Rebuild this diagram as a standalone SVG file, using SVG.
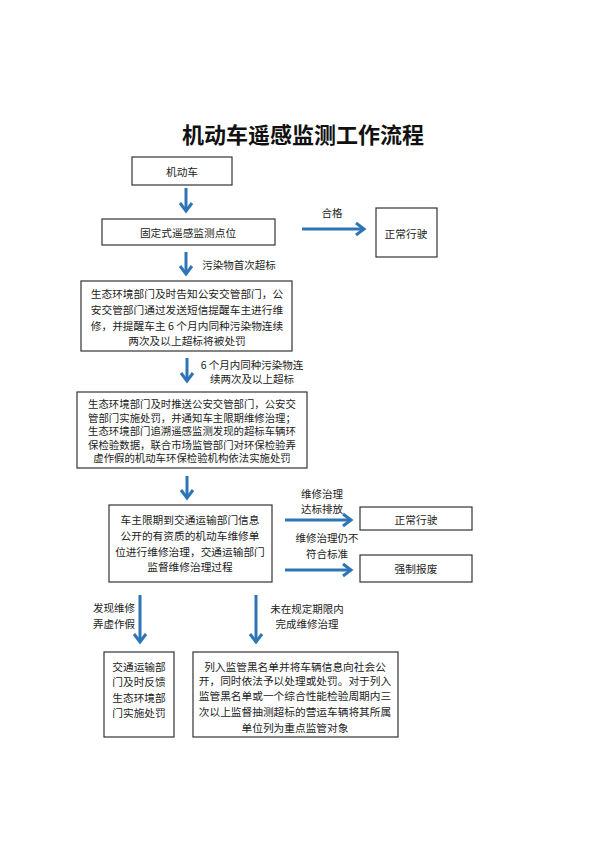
<svg xmlns="http://www.w3.org/2000/svg" width="600" height="848" viewBox="0 0 600 848">
<defs>
<style>
.box{fill:#fff;stroke:#333;stroke-width:1.2}
.t{font-family:"Noto Sans CJK SC","Noto Sans CJK JP",sans-serif;font-size:10.7px;fill:#222;text-anchor:middle;dominant-baseline:central}
.ts{font-family:"Noto Sans CJK SC","Noto Sans CJK JP",sans-serif;font-size:10.4px;fill:#222;text-anchor:middle;dominant-baseline:central}
.lbl{font-family:"Noto Sans CJK SC","Noto Sans CJK JP",sans-serif;font-size:10.5px;fill:#222;text-anchor:middle;dominant-baseline:central}
.title{font-family:"Noto Sans CJK SC","Noto Sans CJK JP",sans-serif;font-size:22px;font-weight:bold;fill:#111;text-anchor:middle;dominant-baseline:central}
.ar{stroke:#2E75B6;stroke-width:3;fill:none}
</style>
<marker id="ah" viewBox="-2 -2 14 16" markerWidth="14" markerHeight="16" refX="9" refY="6" orient="auto" markerUnits="userSpaceOnUse">
<path d="M1,0 L9,6 L1,12" fill="none" stroke="#2E75B6" stroke-width="3"/>
</marker>
</defs>
<rect width="600" height="848" fill="#fff"/>
<text class="title" x="303" y="133">机动车遥感监测工作流程</text>

<g id="connectors">
<line class="ar" x1="186" y1="188" x2="186" y2="211" marker-end="url(#ah)"/>
<line class="ar" x1="302" y1="229" x2="364" y2="229" marker-end="url(#ah)"/>
<line class="ar" x1="186" y1="252" x2="186" y2="274" marker-end="url(#ah)"/>
<line class="ar" x1="187" y1="358" x2="187" y2="381" marker-end="url(#ah)"/>
<line class="ar" x1="187" y1="476" x2="187" y2="498" marker-end="url(#ah)"/>
<line class="ar" x1="285" y1="520" x2="351" y2="520" marker-end="url(#ah)"/>
<line class="ar" x1="285" y1="570" x2="351" y2="570" marker-end="url(#ah)"/>
<line class="ar" x1="140" y1="595" x2="140" y2="642" marker-end="url(#ah)"/>
<line class="ar" x1="256" y1="595" x2="256" y2="642" marker-end="url(#ah)"/>
<text class="lbl" x="332" y="212">合格</text>
<text class="lbl" x="239" y="264">污染物首次超标</text>
<text class="lbl" x="252" y="364">6 个月内同种污染物连</text>
<text class="lbl" x="252" y="378">续两次及以上超标</text>
<text class="lbl" x="322" y="493">维修治理</text>
<text class="lbl" x="322" y="508">达标排放</text>
<text class="lbl" x="327" y="537">维修治理仍不</text>
<text class="lbl" x="327" y="553">符合标准</text>
<text class="lbl" x="114" y="607">发现维修</text>
<text class="lbl" x="114" y="623">弄虚作假</text>
<text class="lbl" x="307" y="608">未在规定期限内</text>
<text class="lbl" x="307" y="623">完成维修治理</text>
</g>

<g id="n1">
<rect class="box" x="132" y="157" width="100" height="28"/>
<text class="t" x="182" y="171">机动车</text>
</g>
<g id="n2">
<rect class="box" x="102" y="219" width="173" height="26"/>
<text class="t" x="188" y="232">固定式遥感监测点位</text>
</g>
<g id="n3">
<rect class="box" x="376" y="208" width="61" height="49"/>
<text class="t" x="406" y="233">正常行驶</text>
</g>
<g id="n4">
<rect class="box" x="81" y="281" width="211" height="70"/>
<text class="t" x="187" y="293">生态环境部门及时告知公安交管部门，公</text>
<text class="t" x="187" y="309">安交管部门通过发送短信提醒车主进行维</text>
<text class="t" x="187" y="325">修，并提醒车主 6 个月内同种污染物连续</text>
<text class="t" x="187" y="340">两次及以上超标将被处罚</text>
</g>
<g id="n5">
<rect class="box" x="77" y="392" width="230" height="76"/>
<text class="ts" x="192" y="403.5">生态环境部门及时推送公安交管部门，公安交</text>
<text class="ts" x="192" y="417">管部门实施处罚，并通知车主限期维修治理；</text>
<text class="ts" x="192" y="430.5">生态环境部门追溯遥感监测发现的超标车辆环</text>
<text class="ts" x="192" y="444">保检验数据，联合市场监管部门对环保检验弄</text>
<text class="ts" x="192" y="457.5">虚作假的机动车环保检验机构依法实施处罚</text>
</g>
<g id="n6">
<rect class="box" x="109" y="505" width="163" height="77"/>
<text class="t" x="190" y="519">车主限期到交通运输部门信息</text>
<text class="t" x="190" y="535">公开的有资质的机动车维修单</text>
<text class="t" x="190" y="551">位进行维修治理，交通运输部门</text>
<text class="t" x="190" y="566">监督维修治理过程</text>
</g>
<g id="n7">
<rect class="box" x="360" y="507" width="112" height="23"/>
<text class="t" x="416" y="519">正常行驶</text>
</g>
<g id="n8">
<rect class="box" x="360" y="555" width="112" height="27"/>
<text class="t" x="416" y="568">强制报废</text>
</g>
<g id="n9">
<rect class="box" x="104" y="652" width="70" height="85"/>
<text class="t" x="139" y="666">交通运输部</text>
<text class="t" x="139" y="681">门及时反馈</text>
<text class="t" x="139" y="697">生态环境部</text>
<text class="t" x="139" y="712">门实施处罚</text>
</g>
<g id="n10">
<rect class="box" x="193" y="652" width="205" height="85"/>
<text class="t" x="295" y="666">列入监管黑名单并将车辆信息向社会公</text>
<text class="t" x="295" y="680">开，同时依法予以处理或处罚。对于列入</text>
<text class="t" x="295" y="695">监管黑名单或一个综合性能检验周期内三</text>
<text class="t" x="295" y="711">次以上监督抽测超标的营运车辆将其所属</text>
<text class="t" x="295" y="727">单位列为重点监管对象</text>
</g>
</svg>
